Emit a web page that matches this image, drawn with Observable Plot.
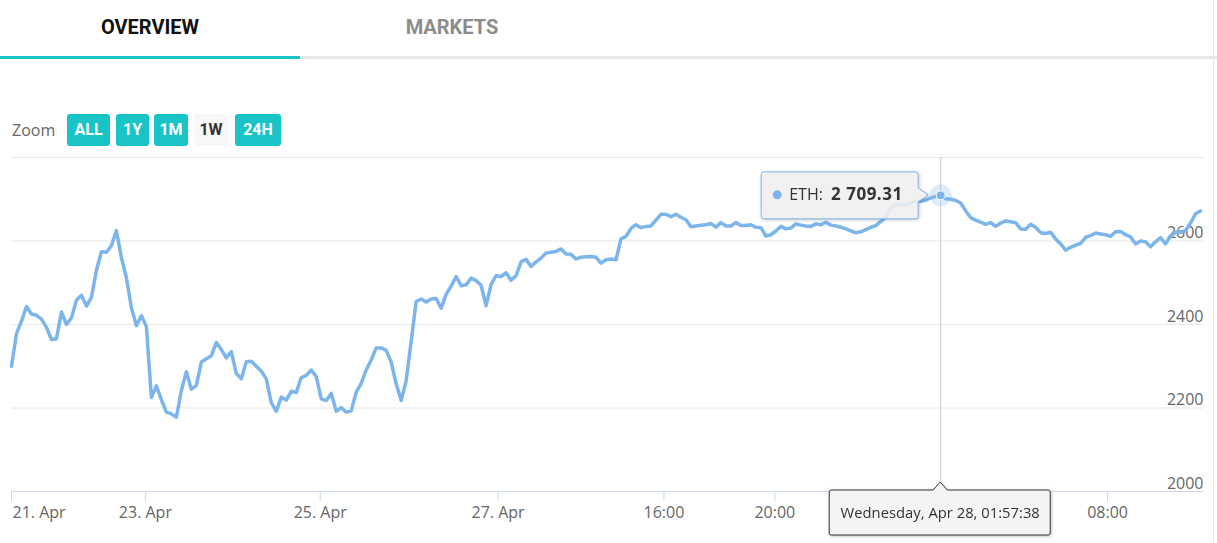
<!DOCTYPE html>
<html>
<head>
<meta charset="utf-8">
<script src="https://cdn.jsdelivr.net/npm/d3@7"></script>
<script src="https://cdn.jsdelivr.net/npm/@observablehq/plot@0.6"></script>
<style>
  html, body { margin: 0; padding: 0; background: #fff; }
  #page { position: relative; width: 1217px; height: 543px; overflow: hidden; background: #fff; font-family: "Open Sans", sans-serif; }
  .tab { position: absolute; top: 0; width: 300px; height: 56px; line-height: 54px; text-align: center; font-family: Roboto, sans-serif; font-weight: 700; font-size: 20px; }
  #tabbar { position: absolute; top: 56px; left: 0; width: 1217px; height: 3px; background: #e8e8e8; }
  #tabbar .on { position: absolute; left: 0; top: 0; width: 300px; height: 3px; background: #19c4c6; }
  #vline { position: absolute; left: 1213px; top: 0; width: 1px; height: 543px; background: #e6e6e6; }
  #zoomlbl { position: absolute; left: 12px; top: 114px; height: 32px; line-height: 32px; font-size: 16px; color: #666; }
  .btn { position: absolute; top: 114px; height: 32px; line-height: 32px; text-align: center; border-radius: 3px; font-family: Roboto, sans-serif; font-weight: 700; font-size: 16px; color: #fff; background: #19c4c6; }
  .btn.sel { background: #f7f7f7; color: #333; }
  #chart { position: absolute; left: 0; top: 140px; }
</style>
</head>
<body>
<div id="page">
  <div class="tab" style="left:0;color:#111;">OVERVIEW</div>
  <div class="tab" style="left:302px;color:#8c8c8c;">MARKETS</div>
  <div id="tabbar"><div class="on"></div></div>
  <div id="vline"></div>
  <div id="zoomlbl">Zoom</div>
  <div id="chart"></div>
</div>
<script>
// ---- data ----
const seriesName = "ETH";
const price = [
2300,2378,2408,2443,2425,2422,2413,2393,2364,2366,
2430,2400,2416,2458,2470,2444,2465,2530,2574,2573,
2589,2625,2560,2512,2440,2397,2421,2395,2225,2253,
2220,2190,2186,2178,2242,2287,2245,2254,2310,2318,
2325,2357,2340,2320,2335,2283,2270,2311,2312,2300,
2288,2270,2213,2192,2226,2219,2240,2237,2273,2278,
2291,2275,2222,2218,2235,2192,2201,2190,2193,2238,
2259,2291,2315,2344,2344,2338,2310,2258,2218,2265,
2360,2455,2461,2454,2461,2462,2439,2472,2492,2515,
2493,2495,2511,2505,2494,2445,2496,2517,2515,2524,
2506,2517,2550,2556,2539,2550,2559,2571,2573,2575,
2581,2569,2568,2557,2561,2562,2563,2561,2547,2555,
2557,2555,2605,2611,2630,2639,2632,2635,2636,2650,
2664,2664,2658,2664,2657,2651,2634,2636,2638,2639,
2642,2633,2644,2636,2636,2644,2637,2637,2639,2633,
2632,2612,2615,2624,2635,2629,2631,2641,2638,2636,
2635,2641,2639,2645,2638,2636,2633,2629,2624,2620,
2622,2627,2633,2637,2647,2656,2680,2686,2688,2687,
2692,2695,2695,2698,2703,2707,2709.31,2701,2700,2697,
2691,2672,2656,2650,2645,2640,2644,2635,2643,2648,
2646,2644,2629,2628,2640,2633,2620,2618,2621,2605,
2593,2578,2585,2590,2594,2609,2613,2619,2617,2615,
2611,2622,2623,2615,2610,2593,2600,2598,2586,2598,
2608,2593,2612,2621,2621,2625,2643,2665,2672
];
// tick positions on the ordinal axis; labels of ticks hidden under the crosshair label are null
const tickIndex  = [0, 26.8, 61.8, 97.4, 130.6, 152.8, 175, 197.2, 219.4];
const tickLabels = ["21. Apr", "23. Apr", "25. Apr", "27. Apr", "16:00", "20:00", null, null, "08:00"];
const yLabels = [2000, 2200, 2400, 2600];
const yGrid = [2200, 2400, 2600, 2800];
const yDomain = [2000, 2800];
const hoverIndex = 186;
const hoverTime = "Wednesday, Apr 28, 01:57:38";

const zoomButtons = ["ALL", "1Y", "1M", "1W", "24H"];
const zoomSelected = "1W";

// ---- buttons ----
const btnLeft = [67, 116, 154, 194, 235];
const btnWidth = [43, 33, 34, 34, 46];
const page = document.getElementById("page");
zoomButtons.forEach((b, i) => {
  const el = document.createElement("div");
  el.className = "btn" + (b === zoomSelected ? " sel" : "");
  el.style.left = btnLeft[i] + "px";
  el.style.width = btnWidth[i] + "px";
  el.textContent = b;
  page.appendChild(el);
});

// ---- chart ----
const lineColor = "#7cb5ec";
const labelled = tickIndex.map((t, i) => ({t, label: tickLabels[i]})).filter(d => d.label);
const chart = Plot.plot({
  width: 1217,
  height: 403,
  marginLeft: 11,
  marginRight: 14,
  marginTop: 17,
  marginBottom: 52,
  x: {domain: [0, price.length - 1], insetRight: 3, label: null},
  y: {domain: yDomain, axis: null, label: null},
  style: {fontFamily: "'Open Sans', sans-serif", fontSize: "16px", background: "transparent", overflow: "visible"},
  marks: [
    Plot.ruleY(yGrid, {stroke: "#e6e6e6", strokeWidth: 1}),
    Plot.ruleY([yDomain[0]], {stroke: "#ccd6eb", strokeWidth: 1}),
    Plot.axisX({ticks: tickIndex, tickSize: 10, tickFormat: () => "", label: null, stroke: "#ccd6eb", strokeOpacity: 1}),
    Plot.text(labelled.slice(0, 1), {x: d => d.t, frameAnchor: "bottom", dy: 26, dx: 1, text: d => d.label, textAnchor: "start", fill: "#666", fontSize: 16}),
    Plot.text(labelled.slice(1), {x: d => d.t, frameAnchor: "bottom", dy: 26, text: d => d.label, textAnchor: "middle", fill: "#666", fontSize: 16}),
    Plot.text(yLabels, {y: d => d, frameAnchor: "right", textAnchor: "end", dy: -8, text: d => String(d), fill: "#666", fontSize: 16}),
    Plot.ruleX([hoverIndex], {stroke: "#cccccc", strokeWidth: 1}),
    Plot.line(price, {x: (d, i) => i, y: d => d, stroke: lineColor, strokeWidth: 3.5, strokeLinejoin: "round", strokeLinecap: "round"}),
    Plot.dot([hoverIndex], {x: d => d, y: d => price[d], r: 11, fill: lineColor, fillOpacity: 0.25, stroke: "none"}),
    Plot.dot([hoverIndex], {x: d => d, y: d => price[d], r: 4.5, fill: lineColor, stroke: "#fff", strokeWidth: 1})
  ]
});
document.getElementById("chart").appendChild(chart);

// ---- tooltips positioned through the Plot scales ----
const X = chart.scale("x"), Y = chart.scale("y");
const px = X.apply(hoverIndex), py = Y.apply(price[hoverIndex]);
const yb = Y.apply(yDomain[0]);
const svg = d3.select(chart);
const fmt = v => d3.format(",.2f")(v).replace(/,/g, " ");

// series tooltip
{
  const L = px - 179, R = px - 22, T = py - 23, B = py + 24, r = 3;
  const g = svg.append("g").style("filter", "drop-shadow(1px 1px 1.5px rgba(0,0,0,0.22))");
  g.append("path")
    .attr("d", `M${L + r},${T}H${R - r}Q${R},${T} ${R},${T + r}V${py - 7}L${px - 12},${py}L${R},${py + 7}V${B - r}Q${R},${B} ${R - r},${B}H${L + r}Q${L},${B} ${L},${B - r}V${T + r}Q${L},${T} ${L + r},${T}Z`)
    .attr("fill", "rgba(247,247,247,0.85)")
    .attr("stroke", lineColor)
    .attr("stroke-width", 1);
  g.append("circle").attr("cx", L + 16).attr("cy", py).attr("r", 4.5).attr("fill", lineColor);
  const t = g.append("text").attr("x", L + 28).attr("y", py).attr("dy", "0.35em")
    .attr("text-anchor", "start")
    .attr("fill", "#333").style("font-size", "16px").style("font-family", "'Open Sans', sans-serif");
  t.append("tspan").text(seriesName + ": ");
  t.append("tspan").attr("font-weight", "bold").attr("dx", 4).style("font-size", "17px").style("letter-spacing", "0.5px").text(fmt(price[hoverIndex]));
}

// x crosshair label
{
  const L = px - 111, R = px + 110, T = yb - 1, B = yb + 44, r = 2;
  const g = svg.append("g").style("filter", "drop-shadow(1px 1px 1.5px rgba(0,0,0,0.25))");
  g.append("path")
    .attr("d", `M${L + r},${T}H${px - 7}L${px},${T - 8}L${px + 7},${T}H${R - r}Q${R},${T} ${R},${T + r}V${B - r}Q${R},${B} ${R - r},${B}H${L + r}Q${L},${B} ${L},${B - r}V${T + r}Q${L},${T} ${L + r},${T}Z`)
    .attr("fill", "rgba(247,247,247,0.95)")
    .attr("stroke", "#333")
    .attr("stroke-width", 1);
  g.append("text").attr("x", px).attr("y", (T + B) / 2).attr("dy", "0.35em")
    .attr("text-anchor", "middle").attr("fill", "#333")
    .style("font-size", "14.8px").style("font-family", "'Open Sans', sans-serif")
    .text(hoverTime);
}
</script>
</body>
</html>
